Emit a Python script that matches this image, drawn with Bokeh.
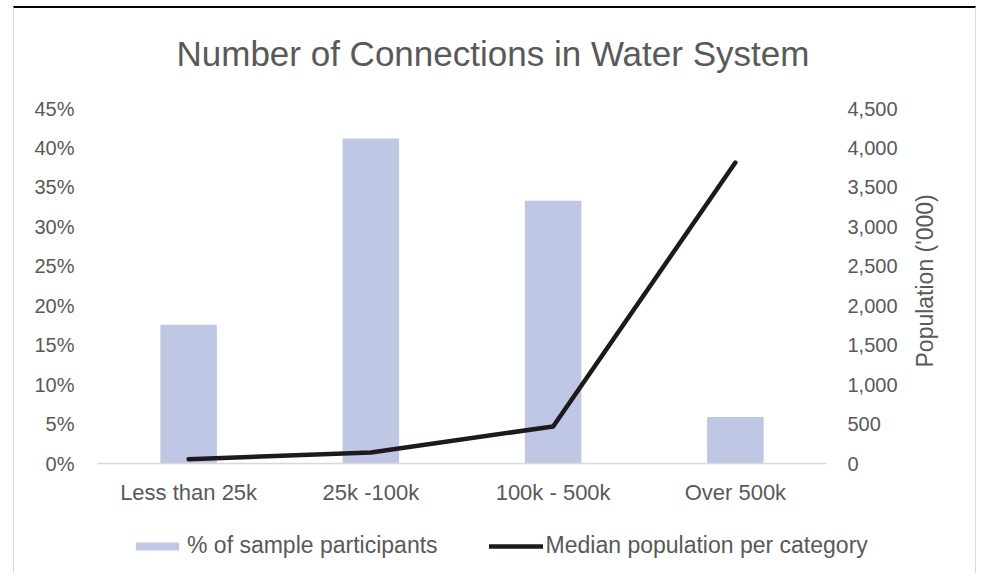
import math
from bokeh.plotting import figure
from bokeh.layouts import column, row
from bokeh.models import (FactorRange, Range1d, LinearAxis, FixedTicker, NumeralTickFormatter,
                          Legend, LegendItem, Title, ColumnDataSource)
from bokeh.embed import file_html
from bokeh.resources import INLINE

categories = ["Less than 25k", "25k -100k", "100k - 500k", "Over 500k"]
pct_participants = [0.176, 0.412, 0.333, 0.059]
median_population = [55, 140, 470, 3815]
pct_ticks = [0.0, 0.05, 0.10, 0.15, 0.20, 0.25, 0.30, 0.35, 0.40, 0.45]
pop_ticks = [0, 500, 1000, 1500, 2000, 2500, 3000, 3500, 4000, 4500]
series_names = ["% of sample participants", "Median population per category"]
right_axis_title = "Population ('000)"

FONT = "Liberation Sans"
TXT = "#595959"
BAR = "#BFC7E5"
LINE = "#1E1A1C"

src = ColumnDataSource(dict(cat=categories, pct=pct_participants, pop=median_population))

p = figure(x_range=FactorRange(*categories, range_padding=0), y_range=Range1d(0, 0.45),
           width=961, height=505, output_backend="svg", toolbar_location=None,
           min_border_left=83, min_border_right=149, min_border_top=100, min_border_bottom=50,
           frame_width=729, frame_height=355)
p.extra_y_ranges = {"pop": Range1d(0, 4500)}
p.outline_line_color = None
p.grid.grid_line_color = None
p.background_fill_color = "white"
p.border_fill_color = "white"

p.vbar(x="cat", top="pct", width=0.31, source=src, fill_color=BAR, line_color=None)
p.line(x="cat", y="pop", source=src, y_range_name="pop", line_color=LINE,
       line_width=4.5, line_cap="round", line_join="round")

# axes
xa = p.xaxis[0]
xa.axis_line_color = "#D9D9D9"
xa.axis_line_width = 1.5
xa.major_tick_line_color = None
xa.major_tick_out = 0
xa.minor_tick_line_color = None
xa.major_label_text_font = FONT
xa.major_label_text_font_size = "22px"
xa.major_label_text_color = TXT
xa.major_label_standoff = 16

ya = p.yaxis[0]
ya.ticker = FixedTicker(ticks=pct_ticks)
ya.formatter = NumeralTickFormatter(format="0%")
ya.axis_line_color = None
ya.major_tick_line_color = None
ya.major_tick_out = 0
ya.minor_tick_line_color = None
ya.major_label_text_font = FONT
ya.major_label_text_font_size = "20px"
ya.major_label_text_color = TXT
ya.major_label_standoff = 23

ra = LinearAxis(y_range_name="pop", ticker=FixedTicker(ticks=pop_ticks),
                formatter=NumeralTickFormatter(format="0,0"))
ra.axis_line_color = None
ra.major_tick_line_color = None
ra.major_tick_out = 0
ra.minor_tick_line_color = None
ra.major_label_text_font = FONT
ra.major_label_text_font_size = "20px"
ra.major_label_text_color = TXT
ra.major_label_standoff = 21
p.add_layout(ra, "right")

# secondary-axis title reading bottom-to-top (placed as a single rotated tick label)
title_anchor = 1217
ra_title = LinearAxis(y_range_name="pop", ticker=FixedTicker(ticks=[title_anchor]),
                      major_label_overrides={title_anchor: right_axis_title})
ra_title.axis_line_color = None
ra_title.major_tick_line_color = None
ra_title.major_tick_out = 0
ra_title.minor_tick_line_color = None
ra_title.major_label_orientation = math.pi / 2
ra_title.major_label_text_font = FONT
ra_title.major_label_text_font_size = "23px"
ra_title.major_label_text_color = TXT
ra_title.major_label_standoff = 25
p.add_layout(ra_title, "right")

# title (a thin spacer title keeps the main title higher above the frame)
spacer = Title(text=" ", text_font_size="1px", standoff=10)
p.add_layout(spacer, "above")
t = Title(text="Number of Connections in Water System", align="left", offset=79,
          text_font=FONT, text_font_size="35px", text_font_style="normal",
          text_color=TXT, standoff=46)
p.add_layout(t, "above")

# legend strip below the chart
p2 = figure(width=961, height=60, x_range=Range1d(0, 1), y_range=Range1d(0, 1),
            output_backend="svg", toolbar_location=None, x_axis_type=None, y_axis_type=None,
            min_border_left=0, min_border_right=0, min_border_top=0, min_border_bottom=0)
try:
    p2.frame_align = False
except Exception:
    pass
p2.outline_line_color = None
p2.background_fill_color = "white"
p2.border_fill_color = "white"
# legend-only renderers, kept outside the visible range of the strip
lb = p2.vbar(x=[5], top=[5], width=0.3, fill_color=BAR, line_color=None)
ll = p2.line(x=[5, 6], y=[5, 5], line_color=LINE, line_width=4.5, line_cap="round")
legend = Legend(items=[LegendItem(label=series_names[0], renderers=[lb]),
                       LegendItem(label=series_names[1], renderers=[ll])],
                orientation="horizontal", location=(116, 14),
                glyph_width=54, glyph_height=10, label_standoff=3, spacing=51,
                padding=0, margin=0, border_line_color=None, background_fill_alpha=0,
                label_text_font=FONT, label_text_font_size="23px", label_text_color=TXT)
p2.add_layout(legend, "center")

layout = column(p, row(p2))
layout.styles = {"margin-left": "13px", "margin-top": "6px",
                 "border-top": "2px solid #000000",
                 "border-left": "1px solid #D9D9D9", "border-right": "1px solid #D9D9D9"}

open("out.html", "w").write(file_html(layout, INLINE))
